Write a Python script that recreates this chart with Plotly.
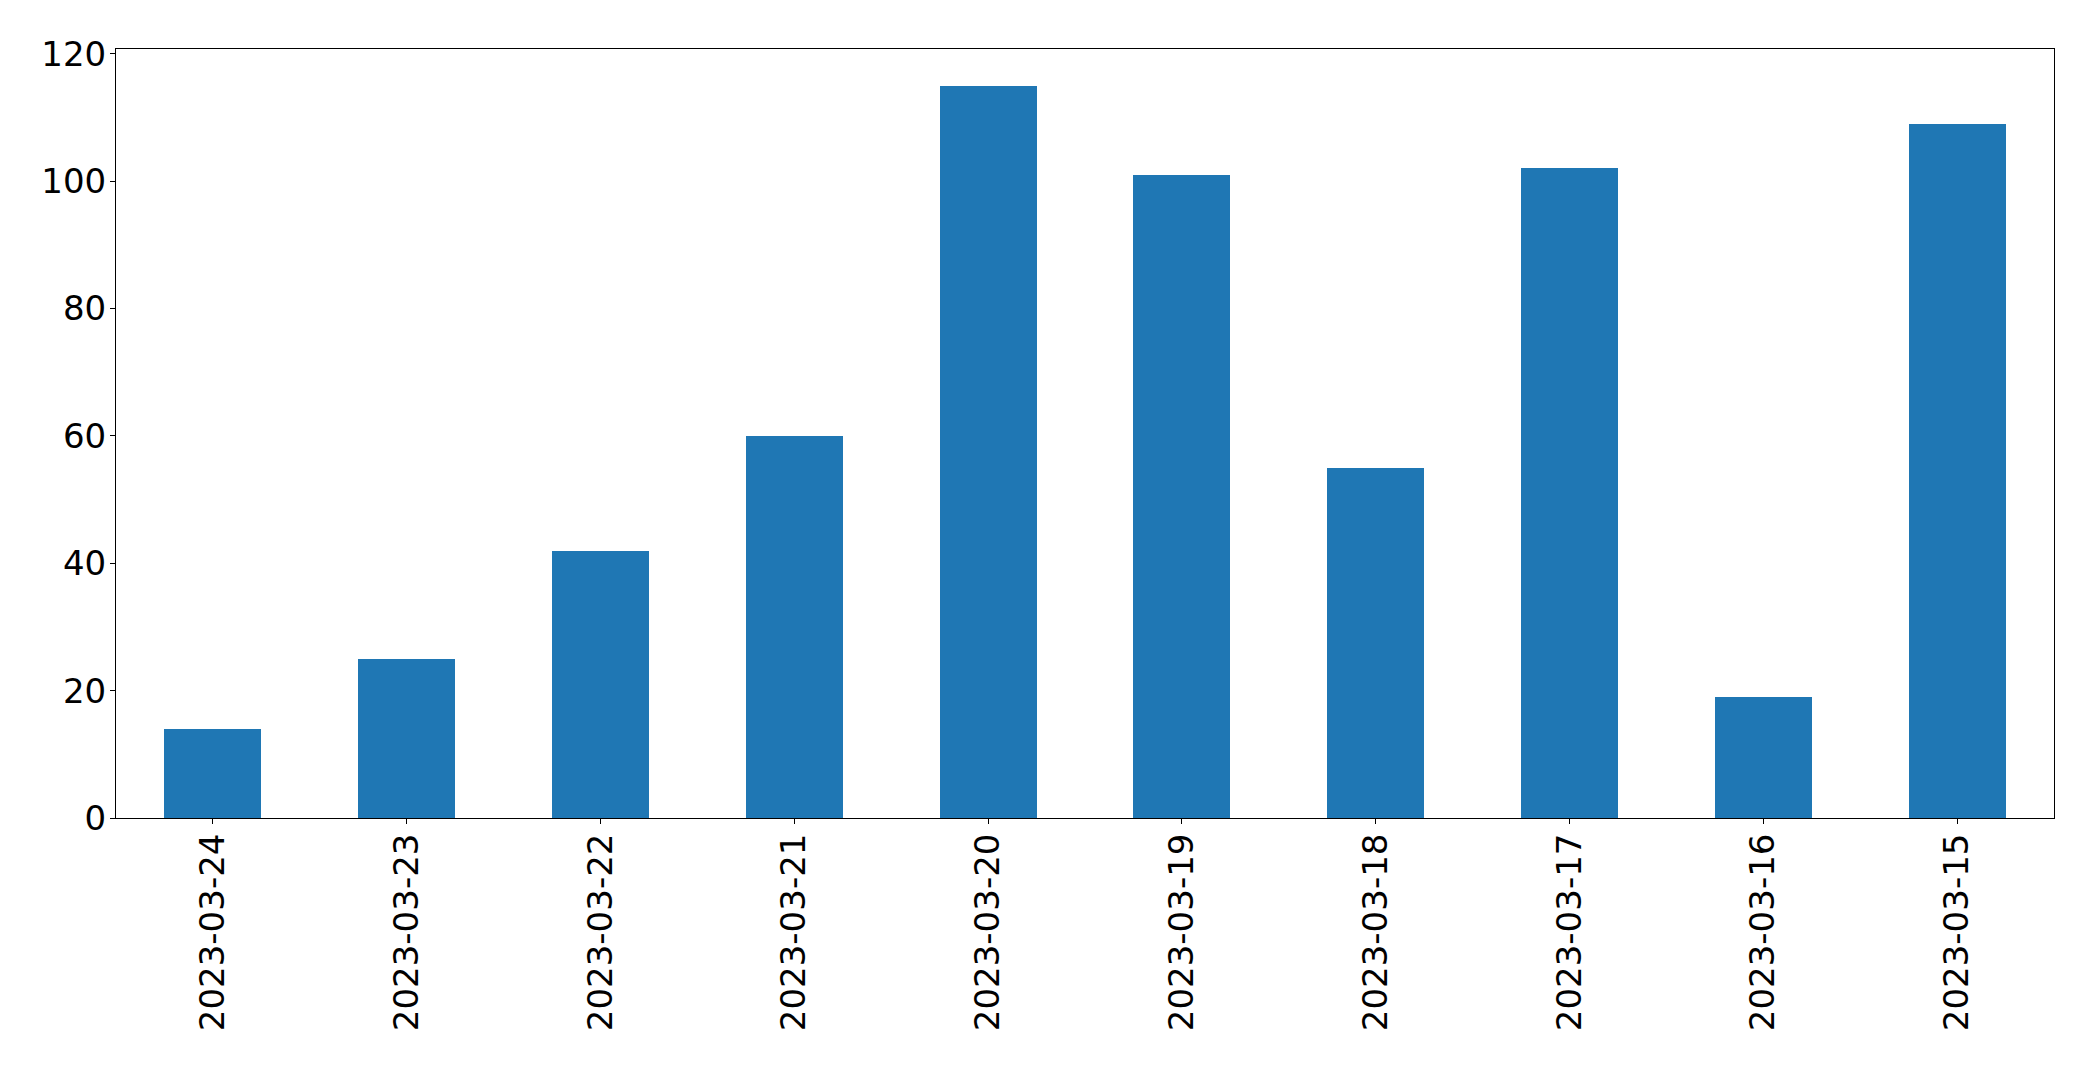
import plotly.graph_objects as go

dates = ["2023-03-24", "2023-03-23", "2023-03-22", "2023-03-21", "2023-03-20",
         "2023-03-19", "2023-03-18", "2023-03-17", "2023-03-16", "2023-03-15"]
counts = [14, 25, 42, 60, 115, 101, 55, 102, 19, 109]
y_ticks = [0, 20, 40, 60, 80, 100, 120]

fig = go.Figure(go.Bar(
    x=list(range(len(dates))),
    y=counts,
    width=0.5,
    marker=dict(color="#1f77b4", line=dict(width=0)),
))

axis_common = dict(
    showline=True, linecolor="black", linewidth=1, mirror=True,
    showgrid=False, zeroline=False,
    ticks="outside", ticklen=5, tickwidth=1, tickcolor="black",
    tickfont=dict(family="DejaVu Sans", size=34, color="black"),
)

fig.update_layout(
    width=2093, height=1070,
    margin=dict(l=116, r=39, t=49, b=252),
    paper_bgcolor="white", plot_bgcolor="white",
    showlegend=False,
    bargap=0,
    xaxis=dict(
        **axis_common,
        range=[-0.5, len(dates) - 0.5],
        tickmode="array",
        tickvals=list(range(len(dates))),
        ticktext=dates,
        tickangle=-90,
        ticklabelstandoff=-4,
    ),
    yaxis=dict(
        **axis_common,
        range=[0, max(counts) * 1.05],
        tickmode="array",
        tickvals=y_ticks,
        ticktext=[str(v) for v in y_ticks],
        ticklabelstandoff=-3,
    ),
)

fig.write_html("out.html")
